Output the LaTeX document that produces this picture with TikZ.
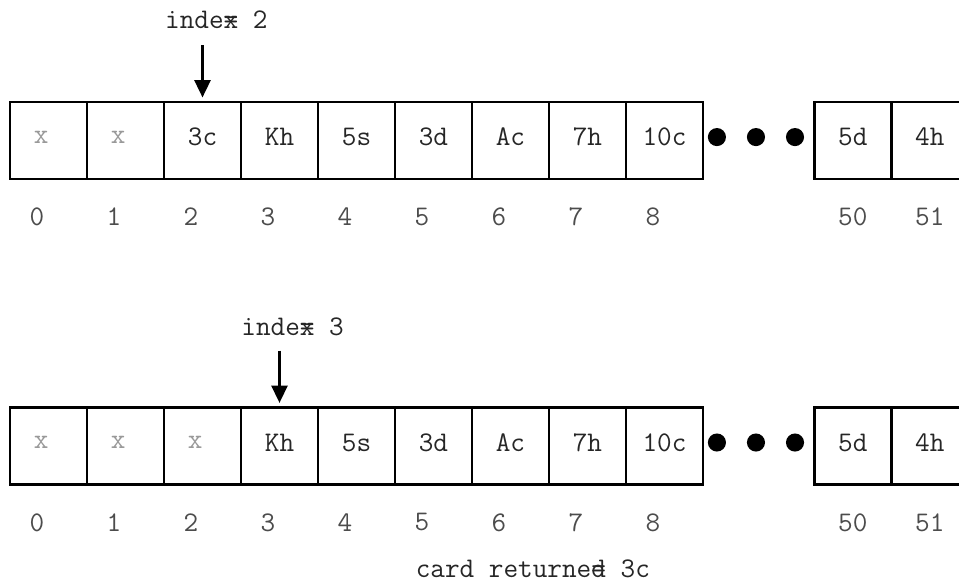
\documentclass[tikz,border=0pt]{standalone}
\usepackage{fontspec}
\usepackage{tikz}
\usetikzlibrary{arrows.meta, positioning}

\begin{document}
\begin{tikzpicture}[
      cell/.style={draw, line width=1.9pt, minimum size=2cm, inner sep=0pt,
      outer sep=0pt, text depth=0.18cm, text=black!85,
      font=\ttfamily\fontsize{21pt}{24pt}\selectfont},
      gone/.style={cell, text=black!40},
      slot/.style={inner sep=0pt, text=black!70,
      font=\ttfamily\fontsize{21pt}{24pt}\selectfont},
      dot/.style={circle, fill=black, minimum size=0.47cm, inner sep=0pt},
      pointer/.style={-{Triangle[length=0.45cm, width=0.42cm]}, line width=1.6pt,
      shorten >=0.12cm},
      note/.style={inner sep=0pt, text=black!85,
      font=\ttfamily\fontsize{21pt}{24pt}\selectfont} ]

    \useasboundingbox (0,0) rectangle (24.91,-15.17);

    % First deck: cards 0..8
    \node[gone] (a0) at (1.26,-3.65) {x\hphantom{x}};
    \node[gone, right=0pt of a0] (a1) {x\hphantom{x}};
    \node[cell, right=0pt of a1] (a2) {3c}; \node[cell, right=0pt of a2] (a3) {Kh};
    \node[cell, right=0pt of a3] (a4) {5s}; \node[cell, right=0pt of a4] (a5) {3d};
    \node[cell, right=0pt of a5] (a6) {Ac}; \node[cell, right=0pt of a6] (a7) {7h};
    \node[cell, right=0pt of a7] (a8) {10c};

    % Gap dots and the last two cards
    \node[dot, right=0.12cm of a8, yshift=0.09cm] (ad1) {};
    \node[dot, right=0.53cm of ad1] (ad2) {}; \node[dot, right=0.53cm of ad2] (ad3) {};
    \node[cell, right=0.26cm of ad3, yshift=-0.09cm] (a50) {5d};
    \node[cell, right=0pt of a50] (a51) {4h};

    % Positions under the first deck
    \foreach \i in {0,...,8} {
      \node[slot, below=0.75cm of a\i, xshift=-0.3cm] (na\i) {\i}; }
    \node[slot, below=0.75cm of a50] (na50) {50};
    \node[slot, below=0.75cm of a51] (na51) {51};

    % Pointer into the first deck
    \node[note] (p1) at (5.62,-0.51) {inde\rlap{x}= 2};
    \coordinate[above=1.48cm of a2.north] (q1);
    \draw[pointer] (q1) -- (a2);

    % Second deck, one card dealt
    \node[gone] (b0) at (1.26,-11.584) {x\hphantom{x}};
    \node[gone, right=0pt of b0] (b1) {x\hphantom{x}};
    \node[gone, right=0pt of b1] (b2) {x\hphantom{x}};
    \node[cell, right=0pt of b2] (b3) {Kh}; \node[cell, right=0pt of b3] (b4) {5s};
    \node[cell, right=0pt of b4] (b5) {3d}; \node[cell, right=0pt of b5] (b6) {Ac};
    \node[cell, right=0pt of b6] (b7) {7h}; \node[cell, right=0pt of b7] (b8) {10c};

    \node[dot, right=0.12cm of b8, yshift=0.09cm] (bd1) {};
    \node[dot, right=0.53cm of bd1] (bd2) {}; \node[dot, right=0.53cm of bd2] (bd3) {};
    \node[cell, right=0.26cm of bd3, yshift=-0.09cm] (b50) {5d};
    \node[cell, right=0pt of b50] (b51) {4h};

    \foreach \i in {0,...,8} {
      \node[slot, below=0.75cm of b\i, xshift=-0.3cm] (nb\i) {\i}; }
    \node[slot, below=0.75cm of b50] (nb50) {50};
    \node[slot, below=0.75cm of b51] (nb51) {51};

    \node[note] (p2) at (7.60,-8.48) {inde\rlap{x}= 3};
    \coordinate[above=1.48cm of b3.north] (q2);
    \draw[pointer] (q2) -- (b3);

    % Result line
    \node[note] (res) at (13.84,-14.78) {card returne\rlap{d}= 3c};

    \end{tikzpicture}
\end{document}
